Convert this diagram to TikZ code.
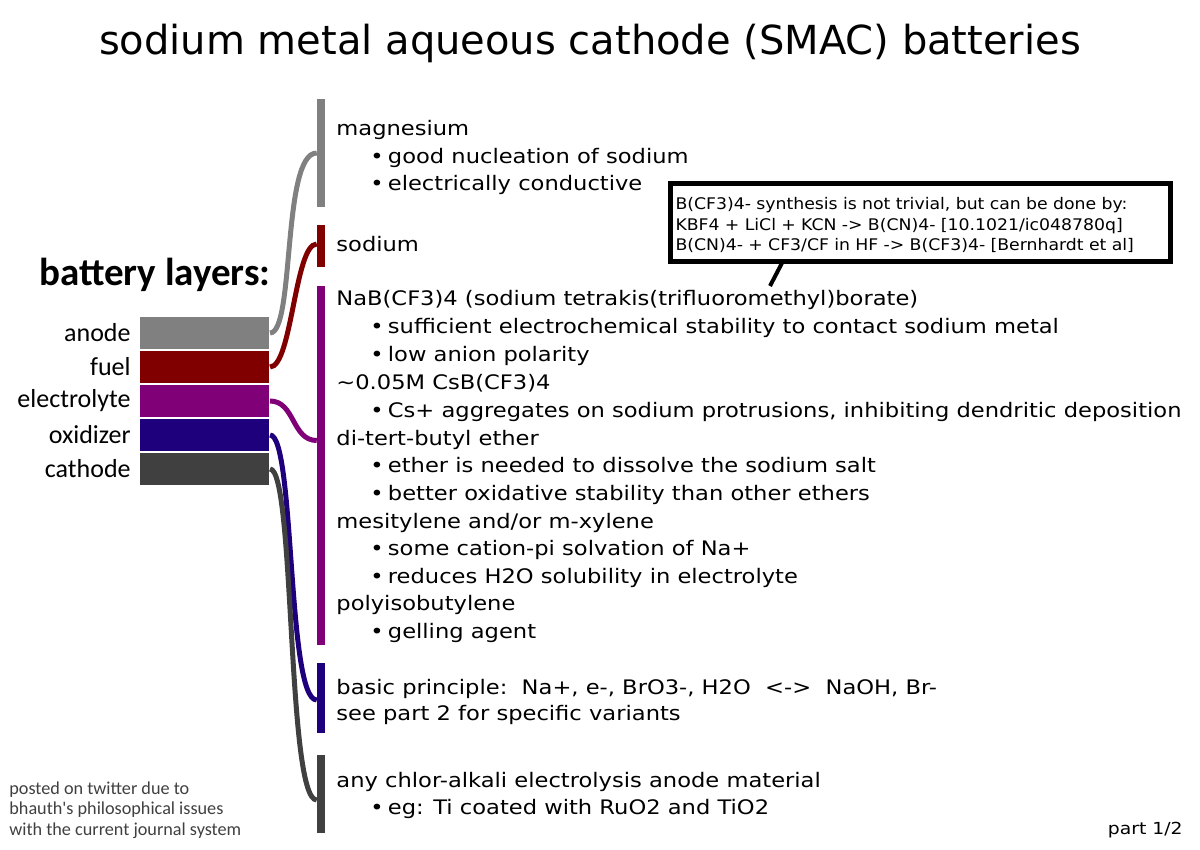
\documentclass[tikz,border=0pt]{standalone}
\usepackage{fontspec}
\setmainfont{DejaVu Sans}
\newfontfamily\calfont{Carlito}
\newfontfamily\widefont{DejaVu Sans}[FakeStretch=1.13]
\newfontfamily\notefont{DejaVu Sans}[FakeStretch=1.08]
\usetikzlibrary{positioning}
\definecolor{anodegray}{RGB}{128,128,128}
\definecolor{fuelred}{RGB}{128,0,0}
\definecolor{elpurple}{RGB}{128,0,120}
\definecolor{oxblue}{RGB}{31,0,124}
\definecolor{cathgray}{RGB}{64,64,64}
\newcommand\itm{\textbullet\hspace{2.1pt}}

\begin{document}
\begin{tikzpicture}[x=0.5pt, y=-0.5pt,
    layer/.style={minimum width=65.5pt, minimum height=17pt, draw=white, line width=1pt, inner sep=0, outer sep=0},
    lab/.style={font=\calfont\fontsize{13}{15}\selectfont, inner sep=0},
    bar/.style={minimum width=4.25pt, inner sep=0, outer sep=0},
    link/.style={line width=2.5pt},
    hd/.style={anchor=base west, inner sep=0, font=\widefont\fontsize{10}{12}\selectfont},
    li/.style={hd},
    note/.style={draw, line width=2.5pt, minimum width=250pt, minimum height=39pt, text width=245pt, inner xsep=2.5pt, align=left, font=\notefont\fontsize{8}{10.25}\selectfont}]
    \useasboundingbox (0,0) rectangle (1200,850);

    \node[anchor=base, inner sep=0, font=\fontsize{20}{24}\selectfont] (title) at (590,55) {sodium metal aqueous cathode (SMAC) batteries};

    % layers
    \node[anchor=base east, inner sep=0, font=\calfont\bfseries\fontsize{19.5}{22}\selectfont] (layers) at (271,286) {battery layers:};
    \node[layer, fill=anodegray] (anode) at (204.5,333) {};
    \node[layer, fill=fuelred, below=0pt of anode] (fuel) {};
    \node[layer, fill=elpurple, below=0pt of fuel] (elyte) {};
    \node[layer, fill=oxblue, below=0pt of elyte] (oxid) {};
    \node[layer, fill=cathgray, below=0pt of oxid] (cath) {};
    \node[lab, left=4pt of anode] (anodelab) {anode};
    \node[lab, left=4pt of fuel] (fuellab) {fuel};
    \node[lab, left=4pt of elyte] (elytelab) {electrolyte};
    \node[lab, left=4pt of oxid] (oxidlab) {oxidizer};
    \node[lab, left=4pt of cath] (cathlab) {cathode};

    % bars
    \node[bar, fill=anodegray, minimum height=54pt] (mgbar) at (321,153) {};
    \node[bar, fill=fuelred, minimum height=21pt] (nabar) at (321,246) {};
    \node[bar, fill=elpurple, minimum height=179.5pt] (elbar) at (321,465.5) {};
    \node[bar, fill=oxblue, minimum height=35pt] (oxbar) at (321,698) {};
    \node[bar, fill=cathgray, minimum height=39pt] (cabar) at (321,794) {};

    \draw[link, anodegray] (anode.east) .. controls +(25,0) and +(-35,0) .. (mgbar.west);
    \draw[link, fuelred] (fuel.east) .. controls +(22,0) and +(-22,0) .. ([yshift=1pt]nabar.west);
    \draw[link, elpurple] (elyte.east) .. controls +(25,0) and +(-25,0) .. ([yshift=12.5pt]elbar.west);
    \draw[link, oxblue] (oxid.east) .. controls +(25,0) and +(-30,0) .. ([yshift=-1pt]oxbar.west);
    \draw[link, cathgray] (cath.east) .. controls +(25,0) and +(-30,0) .. ([yshift=-3pt]cabar.west);

    % anode
    \node[hd] (mg) at (336,136) {magnesium};
    \node[li] (mg1) at (370,164) {\itm good nucleation of sodium};
    \node[li] (mg2) at (370,191) {\itm electrically conductive};
    % fuel
    \node[hd] (na) at (336,252) {sodium};
    % electrolyte
    \node[hd] (el) at (336,306) {NaB(CF3)4 (sodium tetrakis(trifluoromethyl)borate)};
    \node[li] (el1) at (370,334) {\itm sufficient electrochemical stability to contact sodium metal};
    \node[li] (el2) at (370,362) {\itm low anion polarity};
    \node[hd] (cs) at (336,389) {\textasciitilde0.05M CsB(CF3)4};
    \node[li] (cs1) at (370,417) {\itm Cs+ aggregates on sodium protrusions, inhibiting dendritic deposition};
    \node[hd] (et) at (336,445) {di-tert-butyl ether};
    \node[li] (et1) at (370,472) {\itm ether is needed to dissolve the sodium salt};
    \node[li] (et2) at (370,500) {\itm better oxidative stability than other ethers};
    \node[hd] (ms) at (336,528) {mesitylene and/or m-xylene};
    \node[li] (ms1) at (370,555) {\itm some cation-pi solvation of Na+};
    \node[li] (ms2) at (370,583) {\itm reduces H2O solubility in electrolyte};
    \node[hd] (pib) at (336,610) {polyisobutylene};
    \node[li] (pib1) at (370,638) {\itm gelling agent};
    % oxidizer
    \node[hd] (ox) at (336,694) {basic principle:\ \ Na+, e-, BrO3-, H2O\ \ <->\ \ NaOH, Br-};
    \node[hd] (ox1) at (336,720) {see part 2 for specific variants};
    % cathode
    \node[hd] (ca) at (336,787) {any chlor-alkali electrolysis anode material};
    \node[li] (ca1) at (370,814) {\itm eg: Ti coated with RuO2 and TiO2};

    % note
    \node[note] (cf) at (920.5,222.5) {\rule{0pt}{9pt}B(CF3)4- synthesis is not trivial, but can be done by:\\
        KBF4 + LiCl + KCN -> B(CN)4- [10.1021/ic048780q]\\
        B(CN)4- + CF3/CF in HF -> B(CF3)4- [Bernhardt et al]};
    \coordinate (tip) at (770,286);
    \draw[line width=2pt] (cf.south west) ++(114,-1) -- (tip);

    \node[anchor=north west, inner sep=0, align=left, text=black!75, font=\calfont\fontsize{9.1}{10.25}\selectfont] (post) at (9,781) {posted on twitter due to\\ bhauth\textquotesingle s philosophical issues\\ with the current journal system};
    \node[anchor=base east, inner sep=0, font=\widefont\fontsize{8.3}{10}\selectfont] (part) at (1183,834) {part 1/2};
\end{tikzpicture}
\end{document}
